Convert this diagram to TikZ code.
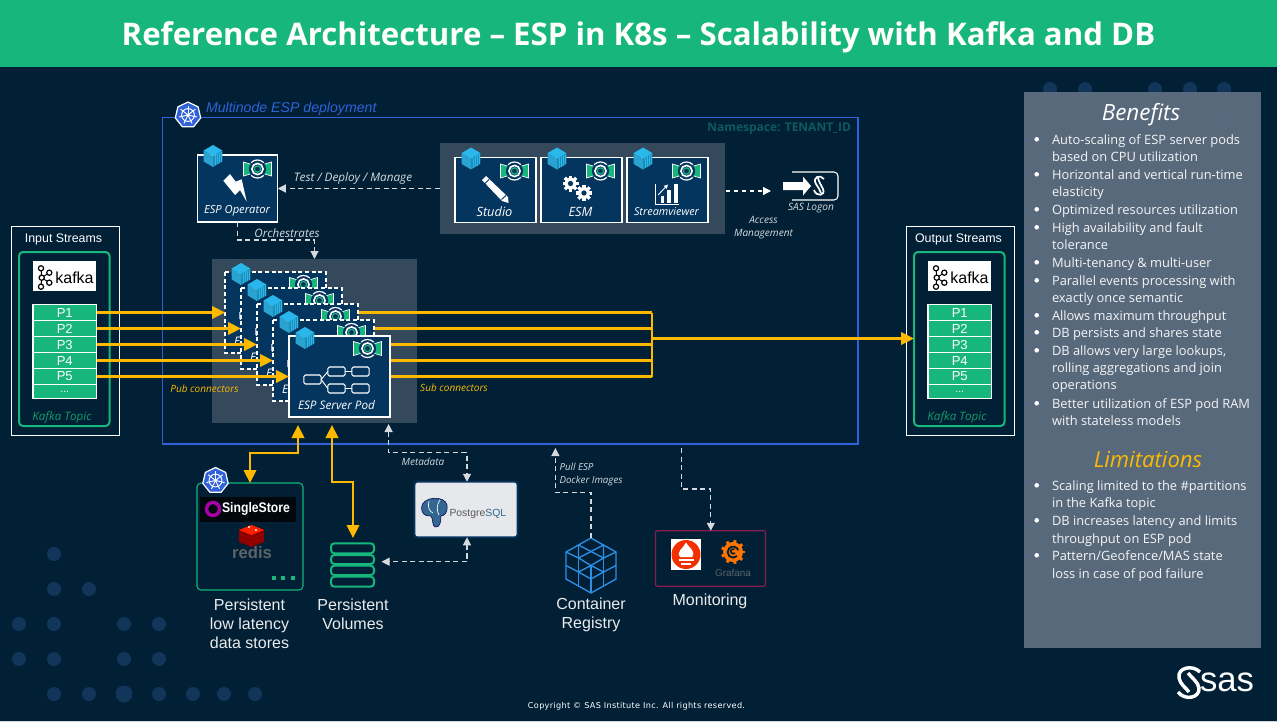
\documentclass[tikz,border=0pt]{standalone}
\usepackage{fontspec}
\setmainfont{Open Sans}
\newfontfamily\arialfont{Liberation Sans}
\newfontfamily\dejafont[LetterSpace=4]{DejaVu Sans}
\usetikzlibrary{arrows.meta}
\definecolor{bgdark}{HTML}{012036}
\definecolor{bandgreen}{HTML}{17B67C}
\definecolor{greypanel}{HTML}{34495C}
\definecolor{podblue}{HTML}{04355F}
\definecolor{framblue}{HTML}{2F62D8}
\definecolor{connyellow}{HTML}{FDB900}
\definecolor{dashgrey}{HTML}{D5DADF}
\definecolor{dotblue}{HTML}{11365A}
\definecolor{sidepanel}{HTML}{5F6F82}
\definecolor{nsgreen}{HTML}{0F5A5C}
\definecolor{cubetop}{HTML}{2AB8EC}
\definecolor{cubeleft}{HTML}{2BA3D0}
\definecolor{cuberight}{HTML}{1E8DB8}
\definecolor{regblue}{HTML}{2E8FE6}
\definecolor{moncrimson}{HTML}{8A1C4E}
\definecolor{logogrey}{HTML}{5D6468}
\definecolor{pgpaper}{HTML}{E7E8EC}
\definecolor{pgblue}{HTML}{336791}
\newcommand{\px}{0.75pt}
\newcommand{\fsz}[1]{\fontsize{#1}{#1}\selectfont}
\tikzset{
	whitebox/.style={draw=white,fill=podblue,line width=.9pt,inner sep=0pt,outer sep=0pt},
	panelbox/.style={fill=greypanel,inner sep=0pt,outer sep=0pt},
	smallbox/.style={draw=white,fill=podblue,line width=.8pt,rounded corners=1.2pt,inner sep=0pt,outer sep=0pt,minimum width=17.4*\px,minimum height=9*\px},
	lbl/.style={text=white,inner sep=0pt,outer sep=0pt,align=center},
	note/.style={lbl,font=\fsz{7.5}\itshape,text=dashgrey},
	bigcap/.style={lbl,font=\arialfont\fontsize{12}{14.3}\selectfont,text=white!92!black},
	yconn/.style={draw=connyellow,line width=1.75pt},
	yarrow/.style={yconn,-{Triangle[length=13*\px,width=12.5*\px]}},
	ydouble/.style={yconn,{Triangle[length=13*\px,width=12.5*\px]}-{Triangle[length=13*\px,width=12.5*\px]}},
	dconn/.style={draw=dashgrey,line width=.9pt,dash pattern=on 3.8pt off 2.6pt,-{Triangle[length=8*\px,width=8*\px]}},
	ddouble/.style={dconn,{Triangle[length=8*\px,width=8*\px]}-{Triangle[length=8*\px,width=8*\px]}},
	listline/.style={text=white!93!sidepanel,inner sep=0pt,outer sep=0pt,anchor=base west,font=\fsz{9.65}},
	poddash/.style={dash pattern=on 3pt off 2pt},
	podsolid/.style={solid},
}
% blue container cube
\newcommand{\podcube}[2]{
	\begin{scope}[shift={(#1,#2)}]
		\fill[cubeleft] (-9.3,-5.5) -- (0,0) -- (0,11) -- (-9.3,5.5) -- cycle;
		\fill[cuberight] (9.3,-5.5) -- (0,0) -- (0,11) -- (9.3,5.5) -- cycle;
		\fill[cubetop] (0,-11) -- (9.3,-5.5) -- (0,0) -- (-9.3,-5.5) -- cycle;
		\foreach \s in {2,4,6,8}
			\draw[cubetop,line width=.35pt] (\s,{-.6*\s+.3}) -- (\s,{10.6-.6*\s});
	\end{scope}
}
% green ESP badge
\newcommand{\espbadge}[2]{
	\begin{scope}[shift={(#1,#2)}]
		\draw[white,line width=.5pt,fill=bandgreen] (-14,-7) -- (-4,-4) -- (-4,4) -- (-14,7) -- cycle;
		\draw[white,line width=.5pt,fill=bandgreen] (14,-7) -- (4,-4) -- (4,4) -- (14,7) -- cycle;
		\fill[podblue] (0,0) circle (8.6);
		\draw[white,line width=.9pt] (-6.4,-6.4) arc (225:315:9);
		\draw[white,line width=.9pt] (-6.4,6.4) arc (135:45:9);
		\draw[white,line width=1.2pt] (0,0) circle (5.6);
		\draw[bandgreen,line width=.9pt] (0,0) circle (3.2);
	\end{scope}
}
% kubernetes wheel
\newcommand{\kubeicon}[2]{
	\begin{scope}[shift={(#1,#2)}]
		\draw[white,line width=.9pt,fill=framblue,line join=round] plot[samples=8,domain=90:450] ({13*cos(\x)},{-13*sin(\x)}) -- cycle;
		\draw[white,line width=.7pt] (0,0) circle (6.4);
		\foreach \a in {90,141.4,192.8,244.2,295.7,347.1,398.5}
			\draw[white,line width=.7pt] (0,0) -- ({9.3*cos(\a)},{-9.3*sin(\a)});
		\fill[white] (0,0) circle (1.6);
	\end{scope}
}
\newcommand{\gearicon}[3]{
	\begin{scope}[shift={(#1,#2)}]
		\foreach \a in {0,45,...,315}
			\draw[white,line width=2.4pt] (0,0) -- ({#3*cos(\a)},{#3*sin(\a)});
		\fill[white] (0,0) circle ({#3*.74});
		\fill[podblue] (0,0) circle ({#3*.33});
	\end{scope}
}
\begin{document}
\begin{tikzpicture}[x=0.75pt,y=-0.75pt]
	\useasboundingbox (0,0) rectangle (1277,722);
	\fill[bgdark] (0,0) rectangle (1277,722);
	\fill[bandgreen] (0,0) rectangle (1277,67);
	\fill[white!80!bgdark] (0,721) rectangle (1277,722);
	\node[lbl,font=\fsz{23.4}\bfseries] (title) at (638.5,37) {Reference Architecture -- ESP in K8s -- Scalability with Kafka and DB};
	% background dots
	\foreach \x/\y in {54/554,54/589,89/589,19/624,54/624,124/624,159/624,19/659,54/659,124/659,159/659,54/694,89/694,159/694,193/694,224/694,255/694,1050/89,1085/89,1155/89,1190/89,1224/89,1120/123,1154/123,1224/123,1154/158}
	{
		\fill[dotblue] (\x,\y) circle (7);
	}
	\fill[dotblue] (124,694) circle (8.5);
	
	% deployment frame
	\node[draw=framblue,line width=.85pt,inner sep=0pt,outer sep=0pt,minimum width=695.5*\px,minimum height=326.5*\px] (frame) at (510.25,280.75) {};
	\kubeicon{188}{115}
	\node[lbl,anchor=west,font=\arialfont\fsz{10.6}\itshape,text=framblue] (deploy) at (206,109) {Multinode ESP deployment};
	\node[lbl,anchor=east,font=\fsz{9}\bfseries,text=nsgreen] (namespace) at (851,129) {Namespace: TENANT\_ID};
	
	% operator
	\node[whitebox,minimum width=80.5*\px,minimum height=67*\px] (op) at (237.5,188.5) {};
	\podcube{213}{156}
	\espbadge{257.5}{169}
	\fill[white] (223.3,180.7) -- (230,174) -- (235.7,181.7) -- (241.7,179.3) -- (246.7,201.7) -- (240,190) -- (235,195) -- cycle;
	\node[lbl,font=\fsz{8.4}\itshape] (oplabel) at (237,211) {ESP Operator};
	
	% tools
	\node[panelbox,minimum width=285*\px,minimum height=91*\px] (tools) at (582.5,188.5) {};
	\foreach \n/\xx/\txt/\sz in {studio/495.5/Studio/9.6,esm/581.5/ESM/9.6,viewer/667.5/Streamviewer/8.15}
	{
		\node[whitebox,minimum width=81*\px,minimum height=65.5*\px] (\n) at (\xx,190) {};
		\podcube{\xx-24.5}{158.5}
		\espbadge{\xx+19}{171}
		\node[lbl,font=\fsz{\sz}\itshape] (\n label) at (\xx-1,212) {\txt};
	}
	% pencil
	\fill[white] (482,180) -- (486,176) -- (508,197) -- (508.5,203) -- (502,201) -- cycle;
	\draw[podblue,line width=.7pt] (484.5,184) -- (489,179.5);
	\draw[podblue,line width=.7pt] (501.5,199.5) -- (506,195.5);
	\gearicon{570.5}{183.5}{8}
	\gearicon{584}{193}{8}
	% chart
	\draw[white,line width=.9pt] (655.5,184) -- (655.5,204.5) -- (679,204.5);
	\fill[white] (660.5,196) rectangle (664,203);
	\fill[white] (667,190) rectangle (671,203);
	\fill[white] (673.5,184) rectangle (678,203);
	\draw[white,line width=.7pt,-{Triangle[length=3pt,width=3pt]}] (658,195) -- (668,184.5);
	
	\draw[dconn] (tools.west) -- (op.east);
	\node[note,font=\fsz{8.8}\itshape] (testlabel) at (353,178.5) {Test / Deploy / Manage};
	
	% SAS logon
	\coordinate (logonout) at (726,191);
	\coordinate (logonin) at (771,191);
	\draw[dconn,draw=white,dash pattern=on 3pt off 3pt] (logonout) -- (logonin);
	\draw[white,line width=.8pt,rounded corners=3pt] (792,172) -- (838,172) -- (838,200) -- (792,200);
	\fill[white] (783,182) -- (803,182) -- (803,176.5) -- (811,186) -- (803,195.5) -- (803,190) -- (783,190) -- cycle;
	\draw[white,line width=1.3pt] (824,179) .. controls (820,174) and (812,177) .. (816,184) .. controls (818,187) and (820,190) .. (821,193);
	\draw[white,line width=1.3pt] (814,190) .. controls (816,197) and (826,196) .. (823,189) .. controls (821,185) and (819,182) .. (818,178);
	\node[note,font=\fsz{7.6}\itshape] (logonlabel) at (811,208) {SAS Logon};
	\node[note,font=\fontsize{7.55}{9.75}\selectfont\itshape] (accesslabel) at (763.5,227.5) {Access\\Management};
	
	% pods
	\node[panelbox,minimum width=205*\px,minimum height=164*\px] (pods) at (314.5,341) {};
	\coordinate (trunktop) at (652,312.5);
	\coordinate (trunkbot) at (652,376.5);
	\coordinate (trunkmid) at (652,338.5);
	\draw[yconn] (trunktop) -- (trunkbot);
	\foreach \i in {1,...,5}
	{
		\pgfmathsetmacro{\xx}{275.5+16*(\i-1)}
		\pgfmathsetmacro{\yy}{312.5+16*(\i-1)}
		\node[minimum width=101*\px,minimum height=81*\px,inner sep=0pt,outer sep=0pt] (pod\i) at (\xx,\yy) {};
		\draw[yconn] (pod\i.east) -- (pod\i.east -| trunktop);
	}
	\foreach \i/\podline in {1/poddash,2/poddash,3/poddash,4/poddash,5/podsolid}
	{
		\pgfmathsetmacro{\xx}{275.5+16*(\i-1)}
		\pgfmathsetmacro{\yy}{312.5+16*(\i-1)}
		\begin{scope}[shift={(\xx,\yy)}]
			\fill[podblue] (-50.5,-40.5) rectangle (50.5,40.5);
			\espbadge{28}{-28}
			\node[smallbox] (flow\i a) at (-27,3) {};
			\node[smallbox] (flow\i b) at (-3,-5) {};
			\node[smallbox] (flow\i c) at (21,-5) {};
			\node[smallbox] (flow\i d) at (-3,12) {};
			\node[smallbox] (flow\i e) at (21,12) {};
			\draw[white,line width=.7pt] (flow\i a.east) -- (flow\i b.west);
			\draw[white,line width=.7pt] (flow\i a.east) -- (flow\i d.west);
			\draw[white,line width=.7pt] (flow\i b.east) -- (flow\i c.west);
			\draw[white,line width=.7pt] (flow\i d.east) -- (flow\i e.west);
			\node[lbl,font=\fsz{8.8}\itshape] (podlabel\i) at (-3,29) {ESP Server Pod};
			\draw[white,line width=.8pt,\podline] (-50.5,-40.5) rectangle (50.5,40.5);
		\end{scope}
	}
	\podcube{241}{274}
	\podcube{257}{290}
	\podcube{273}{306}
	\podcube{289}{322}
	\podcube{305}{338}
	\node[lbl,font=\fsz{7.5}\itshape,text=connyellow] (publabel) at (204.5,389) {Pub connectors};
	\node[lbl,font=\fsz{7.5}\itshape,text=connyellow] (sublabel) at (454,388) {Sub connectors};
	\draw[dconn] (op.south) -- ++(0,18) -| (pods.north);
	\node[note,font=\fsz{8.7}\itshape] (orchlabel) at (287,233) {Orchestrates};
	
	% input and output streams
	\foreach \side/\ttl/\sx in {in/Input Streams/0,out/Output Streams/895}
	{
		\begin{scope}[shift={(\sx,0)}]
			\node[draw=white,line width=.9pt,inner sep=0pt,outer sep=0pt,minimum width=108*\px,minimum height=209.5*\px] (\side box) at (65.5,331) {};
			\node[lbl,font=\arialfont\fsz{9.3}] (\side title) at (63.5,239) {\ttl};
			\node[draw=bandgreen,line width=1.5pt,rounded corners=3pt,inner sep=0pt,outer sep=0pt,minimum width=90.5*\px,minimum height=174*\px] (\side topic) at (64.25,339) {};
			\fill[white] (33,261) rectangle (96,291);
			\draw[black,line width=.75pt] (41,268.3) -- (41.7,277.7) -- (41,286.7) (41.7,277.7) -- (49.3,272.7) (41.7,277.7) -- (49.3,282.7);
			\foreach \kx/\ky in {41/268.3,49.3/272.7,41.7/277.7,49.3/282.7,41/286.7}
			{
				\draw[black,line width=.9pt,fill=white] (\kx,\ky) circle (2.6);
			}
			\node[lbl,font=\arialfont\fsz{12},text=black] (\side kafka) at (74.5,277.5) {kafka};
			\foreach \i/\txt/\rowy in {1/P1/312.5,2/P2/328.5,3/P3/344.5,4/P4/360.5,5/P5/376.5}
			{
				\node[draw=white,fill=bandgreen,line width=.9pt,inner sep=0pt,outer sep=0pt,minimum width=63.5*\px,minimum height=16*\px,font=\arialfont\fsz{9.8},text=white] (\side P\i) at (64.75,\rowy) {\txt};
			}
			\node[draw=white,fill=bandgreen,line width=.9pt,inner sep=0pt,outer sep=0pt,minimum width=63.5*\px,minimum height=14*\px,font=\arialfont\fsz{8},text=white] (\side Pmore) at (64.75,391.5) {...};
			\node[lbl,font=\fsz{8.7}\itshape,text=bandgreen!85!black] (\side topiclabel) at (62,417.5) {Kafka Topic};
		\end{scope}
	}
	\foreach \i in {1,...,5}
	{
		\draw[yarrow] (inP\i.east) -- (pod\i.west);
	}
	\coordinate (outentry) at (outtopic.west |- trunkmid);
	\draw[yarrow] (trunkmid) -- (outentry);
	
	% stores below
	\node[draw=bandgreen,line width=.8pt,rounded corners=3pt,inner sep=0pt,outer sep=0pt,minimum width=106*\px,minimum height=107*\px] (stores) at (250,536.5) {};
	\kubeicon{215.5}{480.5}
	\fill[black!75!bgdark] (200,496.7) rectangle (295.7,521.7);
	\draw[violet!70!magenta,line width=2.6pt] (213,509) circle (6.5);
	\node[lbl,font=\arialfont\fsz{10.4}] (singlestore) at (256,509) {\scalebox{.88}[1]{\bfseries SingleStore}};
	\foreach \ry in {538,534,530}
	{
		\fill[red!55!black] (239,\ry) -- (251.5,{\ry-5}) -- (264,\ry) -- (264,{\ry+4}) -- (251.5,{\ry+9}) -- (239,{\ry+4}) -- cycle;
		\fill[red!75!orange] (239,\ry) -- (251.5,{\ry-5}) -- (264,\ry) -- (251.5,{\ry+5}) -- cycle;
	}
	\fill[white] (249,527) circle (1.2) (256,530) circle (1.2);
	\node[lbl,font=\arialfont\fsz{12.5}\bfseries,text=logogrey] (redis) at (252,553) {redis};
	\foreach \gx in {274,283,293}
	{
		\fill[bandgreen] ({\gx-2},576) rectangle ({\gx+2},580);
	}
	\node[bigcap] (storeslabel) at (249.5,624) {Persistent\\low latency\\ data stores};
	
	% volumes
	\foreach \vy/\vh in {548.3/10,559.5/9,570.4/9.4,581.7/10}
	{
		\draw[bandgreen,line width=1.5pt,rounded corners=2.5pt] (331,{\vy-\vh/2}) rectangle (374,{\vy+\vh/2});
	}
	\coordinate (volumes) at (353,538);
	\coordinate (volumesright) at (381.5,561.7);
	\node[bigcap] (volumeslabel) at (353,614) {Persistent\\Volumes};
	
	% postgres
	\node[draw=podblue,fill=pgpaper,line width=1.4pt,rounded corners=2pt,inner sep=0pt,outer sep=0pt,minimum width=103*\px,minimum height=55.5*\px] (pg) at (466,509.5) {};
	\fill[pgblue,draw=black!70!blue,line width=.4pt] (421.5,508) .. controls (421.5,496) and (445,495) .. (447,505) .. controls (448,513) and (444,516) .. (441,516) .. controls (441,522) and (440,528) .. (435,527) .. controls (432,526) and (433,518) .. (431,516) .. controls (425,517) and (421.5,513) .. (421.5,508) -- cycle;
	\draw[white,line width=.5pt] (429,501) .. controls (427,507) and (430,512) .. (433,513);
	\draw[white,line width=.5pt] (440,500) .. controls (436,505) and (437,512) .. (439,515);
	\node[lbl,anchor=west,font=\arialfont\fsz{7.8},text=black!65] (pglabel) at (449.5,514) {Postgre\textcolor{pgblue}{SQL}};
	
	% registry
	\coordinate (regtop) at (591,538);
	\begin{scope}[line width=1pt,line join=round]
		\draw[regblue] (591,538) -- (616,552) -- (616,579) -- (591,593) -- (566,579) -- (566,552) -- cycle;
		\draw[regblue] (566,552) -- (578.5,558) -- (591,551.5) -- (603.5,558) -- (616,552);
		\draw[regblue] (578.5,545) -- (591,551.5) -- (603.5,545);
		\draw[regblue] (578.5,545) -- (578.5,558) -- (591,565.5) -- (603.5,558) -- (603.5,545);
		\draw[regblue] (566,565.5) -- (578.5,572) -- (591,565.5) -- (603.5,572) -- (616,565.5);
		\draw[regblue] (578.5,558) -- (578.5,586) (603.5,558) -- (603.5,586) (591,565.5) -- (591,593);
		\draw[regblue] (578.5,572) -- (591,579) -- (603.5,572);
	\end{scope}
	\node[bigcap] (reglabel) at (591,614.5) {Container\\Registry};
	
	% monitoring
	\node[draw=moncrimson,line width=.9pt,rounded corners=1.5pt,inner sep=0pt,outer sep=0pt,minimum width=110*\px,minimum height=55.5*\px] (monitor) at (710.5,558.5) {};
	\fill[white] (670.5,539) rectangle (701,570);
	\fill[orange!40!red!95!black] (686,554.5) circle (14.5);
	\fill[white] (680,557) .. controls (676,551) and (683,549) .. (686,542.5) .. controls (690,549) and (696,551) .. (692,557) -- cycle;
	\fill[white] (678.5,558.5) rectangle (693.5,561);
	\fill[white] (681,562.5) rectangle (691,565);
	\foreach \a in {0,40,...,320}
	{
		\draw[orange!90!red,line width=2.2pt] (733,552) -- ({733+12*cos(\a)},{552+12*sin(\a)});
	}
	\fill[orange!90!red] (733,552) circle (10);
	\draw[bgdark,line width=1.4pt] (737,556) arc (45:340:5.5);
	\draw[bgdark,line width=1.2pt] (735,553) arc (45:300:2.5);
	\node[lbl,font=\arialfont\fsz{7.4},text=logogrey] (grafana) at (733,573) {Grafana};
	\node[bigcap] (monlabel) at (710,601) {Monitoring};
	
	% links below the frame
	\coordinate (podstore) at (298,425);
	\coordinate (podvol) at (332,425);
	\coordinate (podmeta) at (388.6,424);
	\draw[ydouble] (podstore) |- (250,453) -- (stores.north);
	\draw[ydouble] (podvol) |- (353,481.7) -- (volumes);
	\draw[ddouble] (podmeta) |- (467,452.7) -- (pg.north -| 467,0);
	\draw[ddouble] (pg.south -| 467,0) |- (volumesright);
	\coordinate (regin) at (555.4,448);
	\draw[dconn] (regtop) |- (555.4,492.7) -- (regin);
	\coordinate (monout) at (681.3,448);
	\draw[dconn] (monout) |- (710.8,489) -- (monitor.north -| 710.8,0);
	\node[note,font=\fsz{7.5}\itshape] (metalabel) at (423,461.5) {Metadata};
	\node[note,anchor=west,font=\fontsize{7.3}{9.75}\selectfont\itshape,align=left] (pulllabel) at (559.5,474.5) {Pull ESP\\Docker Images};
	
	% side panel
	\node[fill=sidepanel,fill opacity=.93,inner sep=0pt,outer sep=0pt,minimum width=237*\px,minimum height=556*\px] (side) at (1142.5,370) {};
	\node[lbl,font=\fsz{16.8}\itshape] (benefits) at (1141,115) {Benefits};
	\foreach \yy/\txt [count=\n] in {139.3/Auto-scaling of ESP server pods,156.3/based on CPU utilization,174.3/Horizontal and vertical run-time,192/elasticity,209.3/Optimized resources utilization,227.3/High availability and fault,244.3/tolerance,262.3/Multi-tenancy \& multi-user,280.3/Parallel events processing with,297.3/exactly once semantic,315.3/Allows maximum throughput,332.3/DB persists and shares state,350.3/{DB allows very large lookups,},368/rolling aggregations and join,385/operations,403.3/Better utilization of ESP pod RAM,420.3/with stateless models,485.3/Scaling limited to the \#partitions,502.3/in the Kafka topic,520.3/DB increases latency and limits,538.3/throughput on ESP pod,555.3/{Pattern/Geofence/MAS state},573.3/loss in case of pod failure}
	{
		\node[listline] (line\n) at (1052,\yy+4.7) {\txt};
	}
	\foreach \yy in {139.3,174.3,209.3,227.3,262.3,280.3,315.3,332.3,350.3,403.3,485.3,520.3,555.3}
	{
		\fill[white] (1036.7,\yy) circle (2.3);
	}
	\node[lbl,font=\fsz{16.6}\itshape,text=connyellow] (limits) at (1148,459.5) {Limitations};
	
	% footer
	\node[lbl,font=\dejafont\fsz{6.1}] (copyright) at (636.5,706) {Copyright © SAS Institute Inc. All rights reserved.};
	\draw[white,line width=2.6pt] (1200,672) .. controls (1192,664) and (1177,668) .. (1179,678) .. controls (1180,684) and (1186,688) .. (1189,692);
	\draw[white,line width=2.6pt] (1178,692) .. controls (1185,701) and (1200,698) .. (1199,688) .. controls (1198,682) and (1192,678) .. (1188,673);
	\node[lbl,font=\arialfont\fsz{26}] (saslogo) at (1227,682) {sas};
\end{tikzpicture}
\end{document}
